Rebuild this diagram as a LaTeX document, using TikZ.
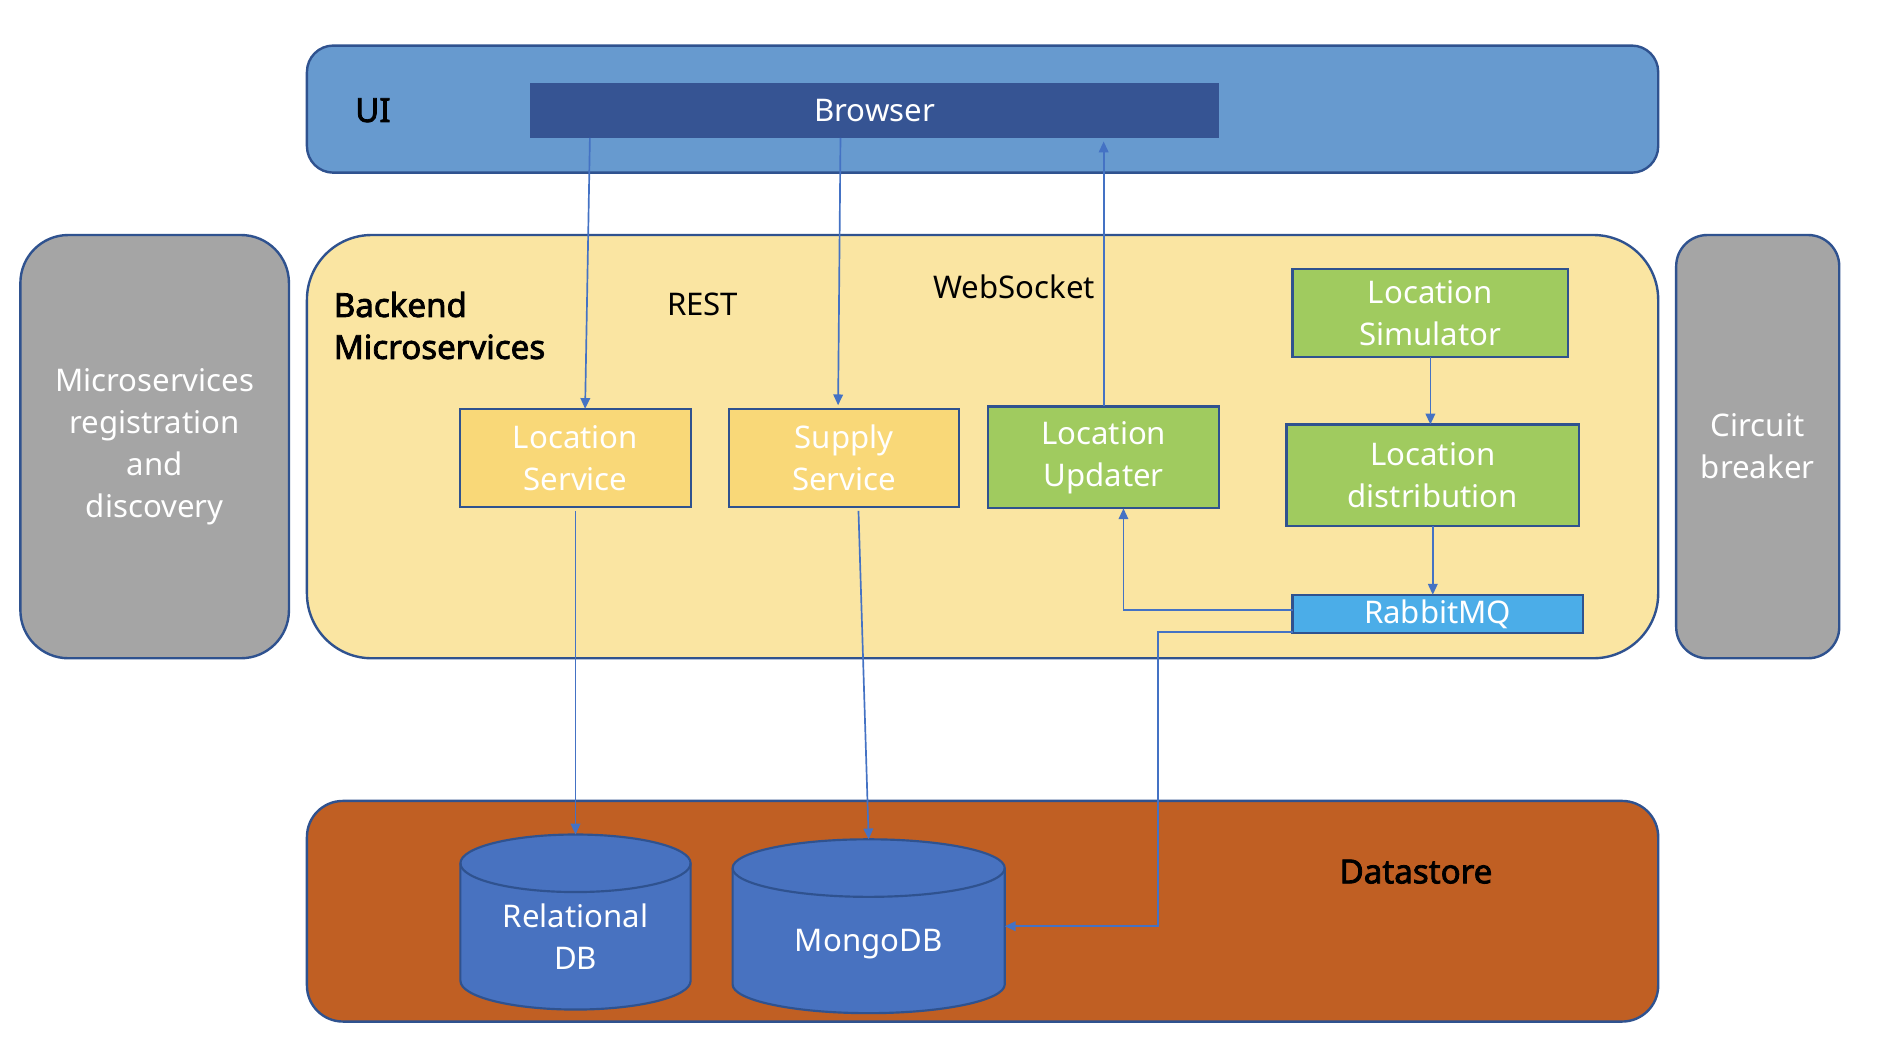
\documentclass[tikz,border=0pt]{standalone}
\usepackage{fontspec}
\setmainfont{Noto Sans}
\newfontfamily\boldlabelfont{Noto Sans}[FakeBold=2.4]
\usetikzlibrary{arrows.meta,calc}
\definecolor{bordc}{RGB}{47,82,143}
\definecolor{connc}{RGB}{68,114,196}
\definecolor{uifill}{RGB}{103,154,207}
\definecolor{browserfill}{RGB}{54,84,147}
\definecolor{backfill}{RGB}{250,229,162}
\definecolor{svcfill}{RGB}{249,216,120}
\definecolor{greenfill}{RGB}{160,203,95}
\definecolor{mqfill}{RGB}{75,173,232}
\definecolor{greyfill}{RGB}{165,165,165}
\definecolor{dsfill}{RGB}{192,95,35}
\definecolor{dbfill}{RGB}{72,114,192}
\tikzset{
  every node/.style={font=\fontsize{13pt}{17.5pt}\selectfont},
  container/.style={draw=bordc, line width=1pt},
  box/.style={draw=bordc, line width=0.9pt, text=white, align=center, inner sep=0pt, outer sep=0pt},
  svc/.style={box, fill=svcfill},
  grn/.style={box, fill=greenfill},
  side/.style={draw=bordc, line width=1pt, fill=greyfill, text=white, align=center, inner sep=0pt, outer sep=0pt},
  dbshape/.style={inner sep=0pt, outer sep=0pt},
  dbtext/.style={text=white, align=center, inner sep=0pt},
  conn/.style={draw=connc, line width=0.7pt, -{Triangle[length=4.5pt,width=4pt]}},
  plain/.style={inner sep=0pt},
  boldlbl/.style={inner sep=0pt, font=\boldlabelfont\fontsize{13.8pt}{17.5pt}\selectfont},
}
\begin{document}
\begin{tikzpicture}[x=0.5pt,y=-0.5pt]
\useasboundingbox (0,0) rectangle (1568,874);
\fill[white] (0,0) rectangle (1568,874);
% containers
\draw[container, fill=uifill, rounded corners=11pt] (256,38) rectangle (1383,144);
\draw[container, fill=backfill, rounded corners=27pt] (256,196) rectangle (1383,549);
\draw[container, fill=dsfill, rounded corners=15pt] (256,668) rectangle (1383,852);
% side boxes
\node[side, minimum width=112pt, minimum height=176.5pt, rounded corners=20pt] (reg) at (129,372.5) {Microservices\\registration\\and\\discovery};
\node[side, minimum width=68pt, minimum height=176.5pt, rounded corners=13pt] (cb) at (1466,372.5) {Circuit\\breaker};
% labels
\node[boldlbl] (uilbl) at (311,92) {UI};
\node[boldlbl, anchor=west, align=left] (belbl) at (278,271.5) {Backend\\Microservices};
\node[boldlbl] (dslbl) at (1181,727) {Datastore};
\node[plain] (rest) at (586,254) {REST};
\node[plain] (ws) at (846,239) {WebSocket};
% UI
\node[box, fill=browserfill, draw=none, minimum width=287.5pt, minimum height=23pt] (browser) at (729.5,92) {Browser};
% services
\node[svc, minimum width=96pt, minimum height=41pt] (ls) at (480,382) {Location\\Service};
\node[svc, minimum width=96pt, minimum height=41pt] (ss) at (704,382) {Supply\\Service};
\node[grn, minimum width=96.5pt, minimum height=42.5pt] (lu) at (920.5,381.5) {Location\\Updater};
\node[grn, minimum width=115pt, minimum height=36.5pt] (sim) at (1193,261) {Location\\Simulator};
\node[grn, minimum width=122pt, minimum height=42.5pt] (dist) at (1195,396.5) {Location\\distribution};
\node[box, fill=mqfill, minimum width=121pt, minimum height=16pt] (rmq) at (1199,512) {RabbitMQ};
% databases
\node[dbshape, minimum width=96pt, minimum height=73pt] (rdb) at (480,769) {};
\node[dbshape, minimum width=113.5pt, minimum height=72.5pt] (mdb) at (724.5,772.5) {};
\draw[draw=bordc, line width=0.9pt, fill=dbfill]
  ([yshift=12pt]rdb.south west) arc[start angle=180, end angle=360, x radius=48pt, y radius=12pt]
  -- ([yshift=-12pt]rdb.north east) arc[start angle=0, end angle=180, x radius=48pt, y radius=12pt] -- cycle;
\draw[draw=bordc, line width=0.9pt]
  ([yshift=-12pt]rdb.north west) arc[start angle=180, end angle=360, x radius=48pt, y radius=12pt];
\draw[draw=bordc, line width=0.9pt, fill=dbfill]
  ([yshift=12pt]mdb.south west) arc[start angle=180, end angle=360, x radius=56.75pt, y radius=12pt]
  -- ([yshift=-12pt]mdb.north east) arc[start angle=0, end angle=180, x radius=56.75pt, y radius=12pt] -- cycle;
\draw[draw=bordc, line width=0.9pt]
  ([yshift=-12pt]mdb.north west) arc[start angle=180, end angle=360, x radius=56.75pt, y radius=12pt];
\node[dbtext] (rdbtext) at (480,781.5) {Relational\\DB};
\node[dbtext] (mdbtext) at (724.5,787) {MongoDB};
% connectors
\coordinate (mqbend) at (966,650);
\draw[conn] ([xshift=25pt]browser.south west) -- ([xshift=52pt]ls.north west);
\draw[conn] ([xshift=129.5pt]browser.south west) -- ([xshift=45.5pt,yshift=1.5pt]ss.north west);
\draw[conn] (lu.north) -- ([yshift=-1.5pt]lu.north |- browser.south);
\draw[conn] (sim.south) -- (sim.south |- dist.north);
\draw[conn] (dist.south) -- (dist.south |- rmq.north);
\draw[conn] ([yshift=1.5pt]rmq.west) -| ([xshift=8.25pt]lu.south);
\draw[conn] ([yshift=0.5pt]rmq.south west) -| (mqbend) |- (mdb.east);
\draw[conn] ([yshift=-1.5pt]ls.south) -- (rdb.north);
\draw[conn] ([xshift=6pt,yshift=-1.5pt]ss.south) -- (mdb.north);
\end{tikzpicture}
\end{document}
